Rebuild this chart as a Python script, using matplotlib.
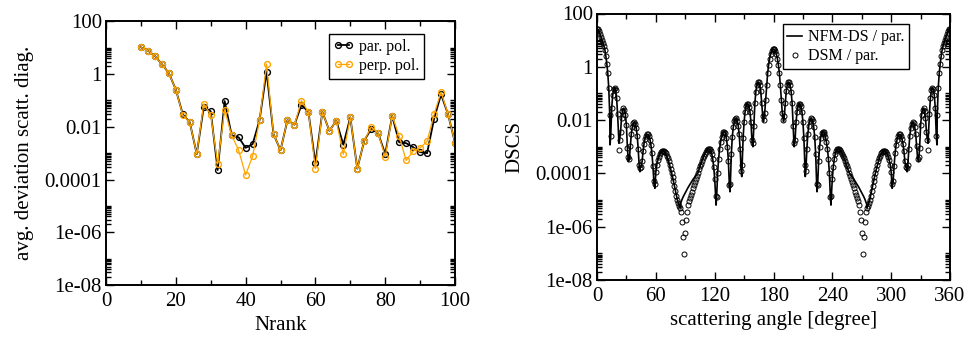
import numpy as np
import matplotlib
matplotlib.use("Agg")
import matplotlib.pyplot as plt
from matplotlib.ticker import FixedLocator, FixedFormatter, NullFormatter

plt.rcParams['font.family'] = ['Liberation Serif', 'DejaVu Serif']
plt.rcParams['mathtext.fontset'] = 'stix'

# ---------------- left panel data ----------------
nrank = [10, 12, 14, 16, 18, 20, 22, 24, 26, 28, 30, 32, 34, 36, 38, 40, 42, 44, 46, 48,
         50, 52, 54, 56, 58, 60, 62, 64, 66, 68, 70, 72, 74, 76, 78, 80, 82, 84, 86, 88,
         90, 92, 94, 96, 98, 100]
par_pol = [10.4, 7.8, 4.9, 2.4, 1.1, 0.26, 0.030, 0.015, 0.00093, 0.056, 0.039, 0.00023,
           0.095, 0.0048, 0.004, 0.0016, 0.0022, 0.018, 1.23, 0.0053, 0.0013, 0.018, 0.012,
           0.068, 0.037, 0.00041, 0.037, 0.0071, 0.017, 0.0021, 0.023, 0.00026, 0.0030,
           0.0085, 0.0056, 0.00093, 0.026, 0.0026, 0.0024, 0.0017, 0.0011, 0.0010, 0.02,
           0.17, 0.03, 0.0025]
perp_pol = [10.4, 7.8, 4.9, 2.4, 1.1, 0.26, 0.028, 0.015, 0.00093, 0.074, 0.029, 0.00039,
            0.044, 0.0048, 0.0013, 0.00015, 0.00076, 0.018, 2.4, 0.0053, 0.0013, 0.018, 0.012,
            0.098, 0.037, 0.00026, 0.037, 0.0071, 0.017, 0.00091, 0.023, 0.00026, 0.0030,
            0.010, 0.0056, 0.00074, 0.026, 0.0045, 0.00053, 0.0012, 0.0016, 0.0028, 0.03,
            0.21, 0.03, 0.0025]

# ---------------- right panel data (log10 of DSCS) ----------------
dsm_angle = list(range(0, 361))
dsm_log_0_180 = [
    1.42, 1.40, 1.34, 1.22, 1.12, 1.02, 0.91, 0.79, 0.64, 0.40,
    0.12, -0.25, -0.80, -1.80, -2.60, -1.55, -1.07, -0.84, -0.78, -0.88,
    -1.18, -1.77, -3.12, -2.75, -2.46, -1.93, -1.66, -1.56, -1.61, -1.80,
    -2.20, -3.04, -3.40, -3.45, -2.97, -2.52, -2.25, -2.12, -2.08, -2.14,
    -2.29, -2.59, -3.08, -3.70, -3.80, -3.75, -3.55, -3.16, -2.88, -2.70,
    -2.58, -2.54, -2.54, -2.60, -2.73, -2.93, -3.24, -3.71, -4.30, -4.40,
    -3.95, -3.68, -3.50, -3.37, -3.27, -3.21, -3.17, -3.16, -3.16, -3.19,
    -3.25, -3.33, -3.43, -3.55, -3.68, -3.82, -3.97, -4.13, -4.30, -4.48,
    -4.66, -4.84, -5.00, -5.12, -5.22, -5.30, -5.44, -5.81, -6.40, -7.04,
    -6.25, -5.75, -5.44, -5.20, -5.05, -4.92, -4.80, -4.68, -4.56, -4.45,
    -4.34, -4.22, -4.10, -3.97, -3.85, -3.74, -3.63, -3.52, -3.43, -3.34,
    -3.26, -3.19, -3.13, -3.09, -3.08, -3.10, -3.16, -3.27, -3.45, -3.75,
    -4.20, -4.85, -4.90, -4.00, -3.45, -3.08, -2.83, -2.65, -2.53, -2.46,
    -2.44, -2.50, -2.68, -3.00, -3.55, -4.45, -4.40, -3.27, -2.62, -2.26,
    -2.05, -1.95, -1.93, -2.02, -2.21, -2.53, -3.10, -3.90, -3.70, -2.68,
    -2.07, -1.69, -1.48, -1.39, -1.39, -1.49, -1.70, -2.07, -2.74, -2.85,
    -2.22, -1.37, -0.93, -0.69, -0.58, -0.57, -0.68, -0.92, -1.36, -1.85,
    -1.98, -1.75, -1.25, -0.70, -0.25, 0.07, 0.30, 0.47, 0.58, 0.65,
    0.67]
dsm_log_181_360 = [
    0.65, 0.58, 0.47, 0.30, 0.07, -0.25, -0.70, -1.25, -1.75, -1.98,
    -1.85, -1.36, -0.92, -0.68, -0.57, -0.58, -0.69, -0.93, -1.37, -2.22,
    -2.85, -2.74, -2.07, -1.70, -1.49, -1.39, -1.39, -1.48, -1.69, -2.07,
    -2.68, -3.70, -3.90, -3.10, -2.53, -2.21, -2.02, -1.93, -1.95, -2.05,
    -2.26, -2.62, -3.27, -4.40, -4.45, -3.55, -3.00, -2.68, -2.50, -2.44,
    -2.46, -2.53, -2.65, -2.83, -3.08, -3.45, -4.00, -4.90, -4.85, -4.20,
    -3.75, -3.45, -3.27, -3.16, -3.10, -3.08, -3.09, -3.13, -3.19, -3.26,
    -3.34, -3.43, -3.52, -3.63, -3.74, -3.85, -3.97, -4.10, -4.22, -4.34,
    -4.45, -4.56, -4.68, -4.80, -4.92, -5.05, -5.20, -5.44, -5.75, -6.25,
    -7.04, -6.40, -5.81, -5.44, -5.30, -5.22, -5.12, -5.00, -4.84, -4.66,
    -4.48, -4.30, -4.13, -3.97, -3.82, -3.68, -3.55, -3.43, -3.33, -3.25,
    -3.19, -3.16, -3.16, -3.17, -3.21, -3.27, -3.37, -3.50, -3.68, -3.95,
    -4.40, -4.30, -3.71, -3.24, -2.93, -2.73, -2.60, -2.54, -2.54, -2.58,
    -2.70, -2.88, -3.16, -3.55, -3.75, -3.80, -3.70, -3.08, -2.59, -2.29,
    -2.14, -2.08, -2.12, -2.25, -2.52, -2.97, -3.45, -3.40, -3.04, -2.20,
    -1.80, -1.61, -1.56, -1.66, -1.93, -2.46, -2.75, -3.12, -1.77, -1.18,
    -0.88, -0.78, -0.84, -1.07, -1.55, -2.60, -1.80, -0.80, -0.25, 0.12,
    0.40, 0.64, 0.79, 0.91, 1.02, 1.12, 1.22, 1.34, 1.40, 1.42]

# NFM-DS line: follows the DSM values except at these angles (nulls and deviations)
nfm_extra_angle = [13.3, 22.0, 22.4, 32.0, 43.8, 59.0, 84.6,
                   85, 86, 87, 88, 89, 90, 91, 92, 93, 94, 95, 96, 97, 98, 99, 100, 101, 102,
                   121.4, 135.6, 147.6, 159.0, 169.8,
                   190.2, 201.0, 212.4, 224.4, 238.6,
                   258, 259, 260, 261, 262, 263, 264, 265, 266, 267, 268, 269, 270, 271, 272,
                   273, 274, 275, 275.4, 301.0, 316.2, 328.0, 337.6, 338.0, 346.7]
nfm_extra_log = [-2.93, -2.55, -2.87, -3.56, -3.94, -4.56, -5.29,
                 -5.15, -5.05, -4.95, -4.87, -4.80, -4.73, -4.66, -4.59, -4.52, -4.46, -4.40,
                 -4.34, -4.28, -4.22, -4.17, -4.12, -4.07, -4.02,
                 -5.19, -4.69, -4.12, -3.00, -2.06,
                 -2.06, -3.00, -4.12, -4.69, -5.19,
                 -4.02, -4.07, -4.12, -4.17, -4.22, -4.28, -4.34, -4.40, -4.46, -4.52, -4.59,
                 -4.66, -4.73, -4.80, -4.87, -4.95, -5.05, -5.15, -5.29, -4.56, -3.94, -3.56,
                 -2.87, -2.55, -2.93]

# ---------------- figure ----------------
W, H = 968, 345
fig = plt.figure(figsize=(W / 100, H / 100), dpi=100)

ax1 = fig.add_axes([106 / W, 1 - 285 / H, 349 / W, 263.6 / H])
ax2 = fig.add_axes([597 / W, 1 - 280 / H, 353 / W, 266.5 / H])

ylog_major = [1e-8, 1e-6, 1e-4, 1e-2, 1, 100]
ylog_labels = ['1e-08', '1e-06', '0.0001', '0.01', '1', '100']
ylog_minor = [k * 10.0 ** e for e in (-8, -6, -4, -2, 0) for k in range(2, 11)]

def style(ax):
    ax.set_yscale('log')
    ax.set_ylim(1e-8, 100)
    ax.yaxis.set_major_locator(FixedLocator(ylog_major))
    ax.yaxis.set_major_formatter(FixedFormatter(ylog_labels))
    ax.yaxis.set_minor_locator(FixedLocator(ylog_minor))
    ax.yaxis.set_minor_formatter(NullFormatter())
    ax.tick_params(which='both', direction='in', top=True, right=True,
                   labelsize=15, width=1.0)
    ax.tick_params(axis='y', which='both', pad=3)
    ax.tick_params(axis='x', which='both', pad=5)
    ax.tick_params(which='major', length=6)
    ax.tick_params(which='minor', length=3.5)
    for s in ax.spines.values():
        s.set_linewidth(1.4)

# left panel
style(ax1)
ax1.plot(nrank, par_pol, '-o', color='black', lw=1.3, ms=4.2, mfc='none', mec='black',
         mew=1.0, label='par. pol.')
ax1.plot(nrank, perp_pol, '-o', color='#FFA500', lw=0.9, ms=4.2, mfc='none', mec='#FFA500',
         mew=1.0, label='perp. pol.')
ax1.set_xlim(0, 100)
ax1.xaxis.set_major_locator(FixedLocator([0, 20, 40, 60, 80, 100]))
ax1.xaxis.set_minor_locator(FixedLocator([10, 30, 50, 70, 90]))
ax1.set_xlabel('Nrank', fontsize=15, labelpad=4)
ax1.set_ylabel('avg. deviation scatt. diag.', fontsize=15, labelpad=8)
leg1 = ax1.legend(loc='upper right', bbox_to_anchor=(0.911, 0.952), fontsize=11.5,
                  frameon=True, fancybox=False, framealpha=1, edgecolor='black',
                  handlelength=1.3, handletextpad=0.3, borderpad=0.3, labelspacing=0.2,
                  borderaxespad=0.0, numpoints=2)
leg1.get_frame().set_linewidth(1.0)

# right panel
style(ax2)
dsm_log = dsm_log_0_180 + dsm_log_181_360
line_map = {float(a): v for a, v in zip(dsm_angle, dsm_log)}
for a, v in zip(nfm_extra_angle, nfm_extra_log):
    line_map[float(a)] = v
line_ang = sorted(line_map)
line_val = [10.0 ** line_map[a] for a in line_ang]
dsm_val = [10.0 ** v for v in dsm_log]
ax2.plot(line_ang, line_val, '-', color='black', lw=1.2, label='NFM-DS / par.')
ax2.plot(dsm_angle, dsm_val, 'o', ls='none', ms=3.6, mfc='none', mec='black', mew=0.7,
         label='DSM / par.')
ax2.set_xlim(0, 360)
ax2.xaxis.set_major_locator(FixedLocator([0, 60, 120, 180, 240, 300, 360]))
ax2.xaxis.set_minor_locator(FixedLocator([30, 90, 150, 210, 270, 330]))
ax2.set_xlabel('scattering angle [degree]', fontsize=15, labelpad=4)
ax2.set_ylabel('DSCS', fontsize=15, labelpad=8)
leg2 = ax2.legend(loc='upper right', bbox_to_anchor=(0.885, 0.959), fontsize=11.5,
                  frameon=True, fancybox=False, framealpha=1, edgecolor='black',
                  handlelength=0.9, handletextpad=0.4, borderpad=0.3, labelspacing=0.2,
                  borderaxespad=0.0, numpoints=1)
leg2.get_frame().set_linewidth(1.0)

fig.savefig('out.png', dpi=100)
